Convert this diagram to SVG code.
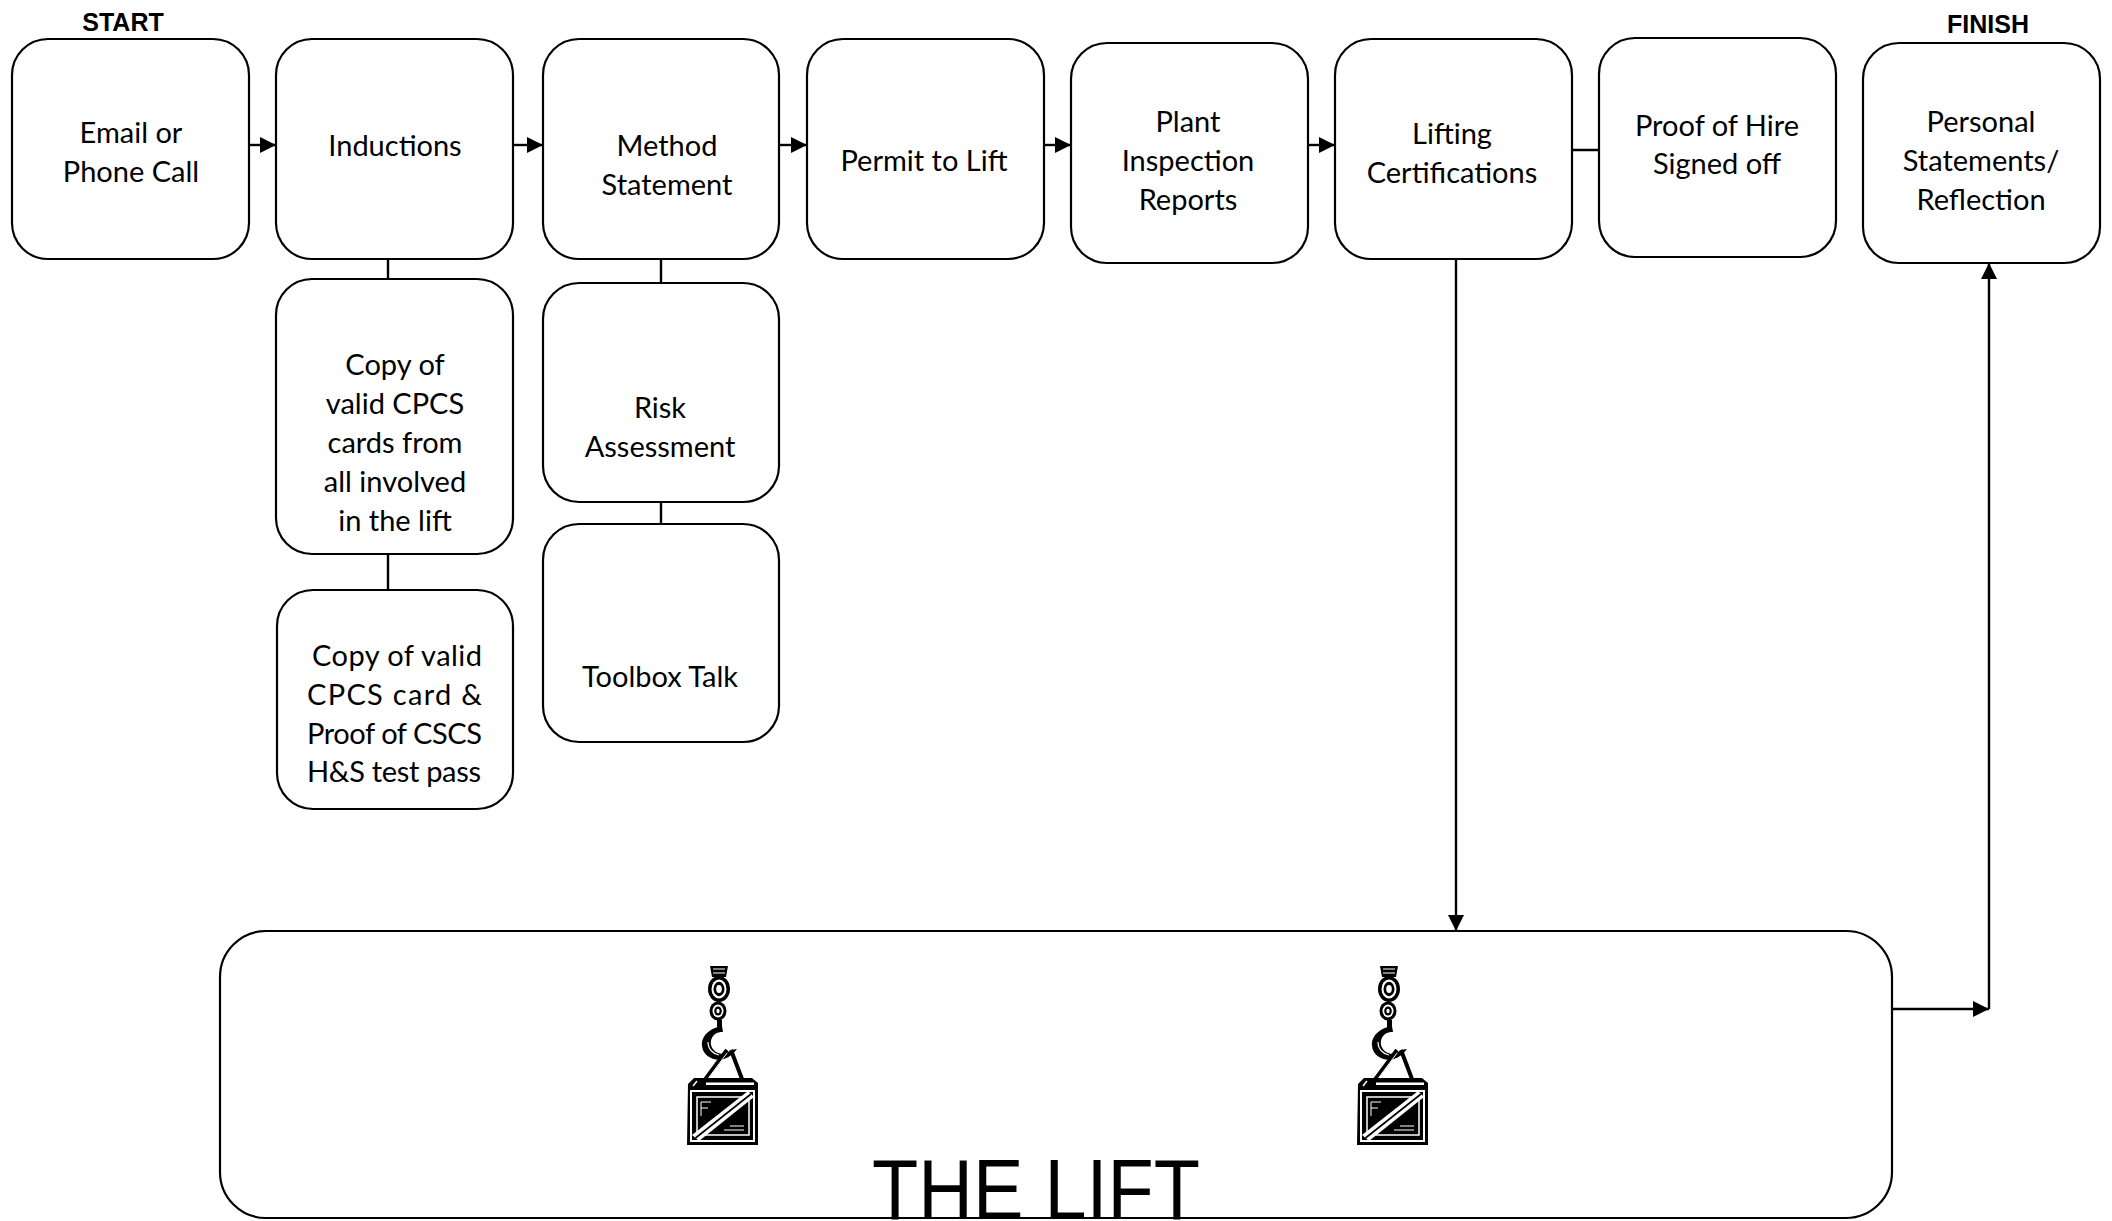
<svg xmlns="http://www.w3.org/2000/svg" width="2112" height="1221" viewBox="0 0 2112 1221">
<style>
.box{fill:#fff;stroke:#000;stroke-width:2.2}
.t{font-family:Lato,"Open Sans","Liberation Sans",sans-serif;font-size:29px;fill:#000;text-anchor:middle}
.tj{font-family:Lato,"Open Sans","Liberation Sans",sans-serif;font-size:29px;fill:#000}
.lbl{font-family:"Liberation Sans",Arial,sans-serif;font-weight:bold;font-size:25px;fill:#000;text-anchor:middle}
.con{fill:none;stroke:#000;stroke-width:2.4}
.big{font-family:"Liberation Sans",Arial,sans-serif;font-size:86px;fill:#000}
</style>
<defs>
<marker id="ah" viewBox="0 0 10 10" refX="10" refY="5" markerUnits="userSpaceOnUse" markerWidth="16" markerHeight="16" orient="auto">
<path d="M0,0 L10,5 L0,10 z" fill="#000"/>
</marker>
<symbol id="hook" viewBox="0 0 75 182" width="75" height="182" overflow="visible">
<path d="M24,0 L42,0 L40,11 L26,11 z" fill="#000"/>
<path d="M27,3 H39 M27,7 H39" stroke="#fff" stroke-width="1.2"/>
<ellipse cx="33" cy="23" rx="11" ry="13" fill="#000"/>
<ellipse cx="33" cy="23" rx="7.5" ry="9.5" fill="#fff"/>
<ellipse cx="33" cy="23" rx="5.5" ry="7.2" fill="#000"/>
<ellipse cx="33" cy="23" rx="2.8" ry="4" fill="#fff"/>
<ellipse cx="32" cy="45" rx="8.5" ry="9.5" fill="#000"/>
<ellipse cx="32" cy="45" rx="5.5" ry="6.5" fill="#fff"/>
<ellipse cx="32" cy="45" rx="3.8" ry="4.6" fill="#000"/>
<ellipse cx="32" cy="45" rx="1.6" ry="2.2" fill="#fff"/>
<rect x="31" y="54" width="5" height="8" fill="#000"/>
<path d="M36,60 C24,62 15,70 16,80 C17,90 28,96 38,93 C44,91 48,87 51,83 L45,84 C41,88 35,89 30,86 C24,82 23,74 28,69 C31,66 34,66 37,66 z" fill="#000"/>
<path d="M22,76 C22,83 27,88 33,89" fill="none" stroke="#fff" stroke-width="1.2"/>
<path d="M41,84 L15,119 M45,84 L56,113" stroke="#000" stroke-width="4" fill="none"/>
<path d="M41,87 L18,118" stroke="#fff" stroke-width="1" fill="none"/>
<path d="M2,118 L8,112 L66,112 L72,117 L72,179 L1,179 z" fill="#000"/>
<rect x="20" y="116.5" width="48" height="2.5" fill="#fff"/>
<path d="M7,120 L11,115" stroke="#fff" stroke-width="1.5"/>
<rect x="5" y="125" width="63" height="50" fill="none" stroke="#fff" stroke-width="2"/>
<rect x="11" y="131" width="52" height="38" fill="none" stroke="#fff" stroke-width="1.5"/>
<path d="M6,169 L13,175 L68,131 L62,125 z" fill="#fff"/>
<path d="M9.5,172 L65,128" stroke="#000" stroke-width="1.6"/>
<path d="M15,136 V150 M15,136 H25 M15,142 H22" stroke="#fff" stroke-width="1"/>
<path d="M38,164 H58 M44,160 H58" stroke="#fff" stroke-width="1"/>
</symbol>
</defs>
<rect width="2112" height="1221" fill="#fff"/>

<text class="lbl" x="123" y="31">START</text>
<text class="lbl" x="1988" y="33">FINISH</text>

<g id="connectors">
<path class="con" d="M249,145 H276" marker-end="url(#ah)"/>
<path class="con" d="M513,145 H543" marker-end="url(#ah)"/>
<path class="con" d="M779,145 H807" marker-end="url(#ah)"/>
<path class="con" d="M1044,145 H1071" marker-end="url(#ah)"/>
<path class="con" d="M1308,145 H1335" marker-end="url(#ah)"/>
<path class="con" d="M1572,150 H1607"/>
<path class="con" d="M388,259 V279"/>
<path class="con" d="M388,554 V590"/>
<path class="con" d="M661,259 V283"/>
<path class="con" d="M661,502 V524"/>
<path class="con" d="M1456,259 V931" marker-end="url(#ah)"/>
<path class="con" d="M1892,1009 H1989" marker-end="url(#ah)"/>
<path class="con" d="M1989,1009 V263" marker-end="url(#ah)"/>
</g>

<g id="email">
<rect class="box" x="12" y="39" width="237" height="220" rx="36" ry="36"/>
<text class="t" x="131" y="143">Email or</text>
<text class="t" x="131" y="182">Phone Call</text>
</g>
<g id="inductions">
<rect class="box" x="276" y="39" width="237" height="220" rx="36" ry="36"/>
<text class="t" x="395" y="156">Inductions</text>
</g>
<g id="method">
<rect class="box" x="543" y="39" width="236" height="220" rx="36" ry="36"/>
<text class="t" x="667" y="156">Method</text>
<text class="t" x="667" y="195">Statement</text>
</g>
<g id="permit">
<rect class="box" x="807" y="39" width="237" height="220" rx="36" ry="36"/>
<text class="t" x="924" y="171">Permit to Lift</text>
</g>
<g id="plant">
<rect class="box" x="1071" y="43" width="237" height="220" rx="36" ry="36"/>
<text class="t" x="1188" y="132">Plant</text>
<text class="t" x="1188" y="171">Inspection</text>
<text class="t" x="1188" y="210">Reports</text>
</g>
<g id="lifting">
<rect class="box" x="1335" y="39" width="237" height="220" rx="36" ry="36"/>
<text class="t" x="1452" y="144">Lifting</text>
<text class="t" x="1452" y="183">Certifications</text>
</g>
<g id="hire">
<rect class="box" x="1599" y="38" width="237" height="219" rx="36" ry="36"/>
<text class="t" x="1717" y="136">Proof of Hire</text>
<text class="t" x="1717" y="174">Signed off</text>
</g>
<g id="personal">
<rect class="box" x="1863" y="43" width="237" height="220" rx="36" ry="36"/>
<text class="t" x="1981" y="132">Personal</text>
<text class="t" x="1981" y="171">Statements/</text>
<text class="t" x="1981" y="210">Reflection</text>
</g>
<g id="copy1">
<rect class="box" x="276" y="279" width="237" height="275" rx="36" ry="36"/>
<text class="t" x="395" y="375">Copy of</text>
<text class="t" x="395" y="414">valid CPCS</text>
<text class="t" x="395" y="453">cards from</text>
<text class="t" x="395" y="492">all involved</text>
<text class="t" x="395" y="531">in the lift</text>
</g>
<g id="copy2">
<rect class="box" x="277" y="590" width="236" height="219" rx="36" ry="36"/>
<text class="tj" x="312" y="666" textLength="170" lengthAdjust="spacing">Copy of valid</text>
<text class="tj" x="307" y="705" textLength="175" lengthAdjust="spacing">CPCS card &amp;</text>
<text class="tj" x="307" y="744" textLength="175" lengthAdjust="spacing">Proof of CSCS</text>
<text class="tj" x="307" y="782" textLength="174" lengthAdjust="spacing">H&amp;S test pass</text>
</g>
<g id="risk">
<rect class="box" x="543" y="283" width="236" height="219" rx="36" ry="36"/>
<text class="t" x="660" y="418">Risk</text>
<text class="t" x="660" y="457">Assessment</text>
</g>
<g id="toolbox">
<rect class="box" x="543" y="524" width="236" height="218" rx="36" ry="36"/>
<text class="t" x="660" y="687">Toolbox Talk</text>
</g>
<g id="lift">
<rect class="box" x="220" y="931" width="1672" height="287" rx="46" ry="46"/>
<use href="#hook" x="686" y="966"/>
<use href="#hook" x="1356" y="966"/>
<text class="big" x="872" y="1219" textLength="328" lengthAdjust="spacingAndGlyphs">THE LIFT</text>
</g>
</svg>
